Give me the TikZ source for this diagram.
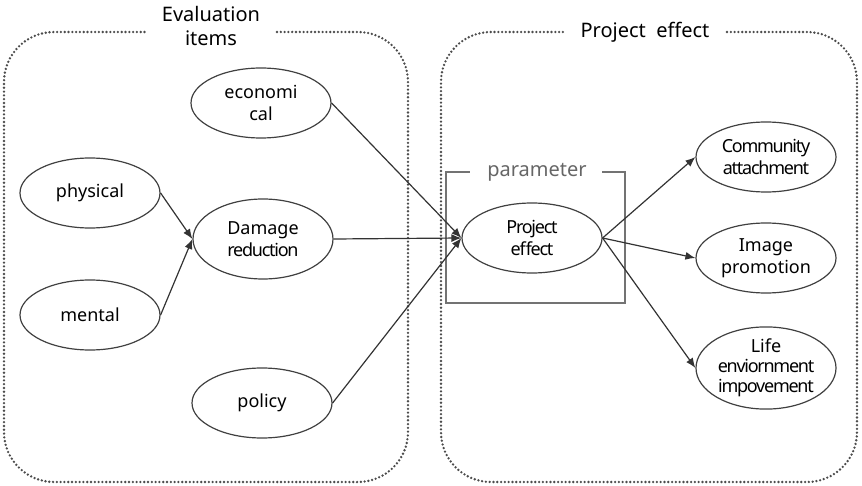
\documentclass[tikz,border=0pt]{standalone}
\usepackage{fontspec}
\setmainfont{Noto Sans}
\newfontfamily\tightfont[LetterSpace=-7]{Noto Sans}
\usetikzlibrary{arrows.meta,shapes.geometric}

\begin{document}
\begin{tikzpicture}[
  x=0.5pt, y=-0.5pt,
  >={Latex[length=5pt,width=4pt]},
  font=\fontsize{9}{11}\selectfont,
  item/.style={draw=black!75, line width=0.6pt, ellipse, inner sep=0pt, minimum width=70pt, minimum height=35pt, align=center},
  arrow/.style={->, draw=black!80, line width=0.6pt},
  region/.style={draw=black!70, line width=1.3pt, line cap=round, dash pattern=on 0pt off 1.9pt, rounded corners=25pt},
  title/.style={align=center, font=\fontsize{10}{12}\selectfont, inner sep=0pt}
]
\useasboundingbox (0,0) rectangle (862,486);

% the two regions
\draw[region] (277,32) -- (408,32) -- (408,482) -- (4,482) -- (4,32) -- (145,32);
\draw[region] (727,32) -- (857,32) -- (857,482) -- (441,482) -- (441,32) -- (563,32);
\node[title] (evaltitle) at (211,26) {Evaluation\\items};
\node[title] (efftitle) at (645,32) {Project\ \ effect};

% parameter frame
\draw[black!55, line width=0.6pt] (602,172) -- (625,172) -- (625,303) -- (446,303) -- (446,172) -- (470,172);
\node[title, text=black!60] (param) at (537,172) {parameter};

% evaluation items
\node[item] (eco) at (261,103) {economi\\cal};
\node[item] (phys) at (90,193) {physical};
\node[item] (ment) at (90,315) {mental};
\node[item, minimum height=40pt] (dmg) at (263,239) {Damage\\{\tightfont reduction}};
\node[item] (pol) at (262,403) {policy};

% project effect and outcomes
\node[item] (pe) at (532,238) {\tightfont Project\\\tightfont effect};
\node[item] (ca) at (766,157) {\tightfont Community\\\tightfont attachment};
\node[item] (ip) at (766,258) {Image\\promotion};
\node[item, font=\fontsize{9}{10}\selectfont] (life) at (766,368) {Life\\\tightfont enviornment\\\tightfont impovement};

\draw[arrow] (phys.east) -- (dmg.west);
\draw[arrow] (ment.east) -- (dmg.west);
\draw[arrow] (eco.east) -- (pe.west);
\draw[arrow] (dmg.east) -- (pe.west);
\draw[arrow] (pol.east) -- (pe.west);
\draw[arrow] (pe.east) -- (ca.west);
\draw[arrow] (pe.east) -- (ip.west);
\draw[arrow] (pe.east) -- (life.west);
\end{tikzpicture}
\end{document}
